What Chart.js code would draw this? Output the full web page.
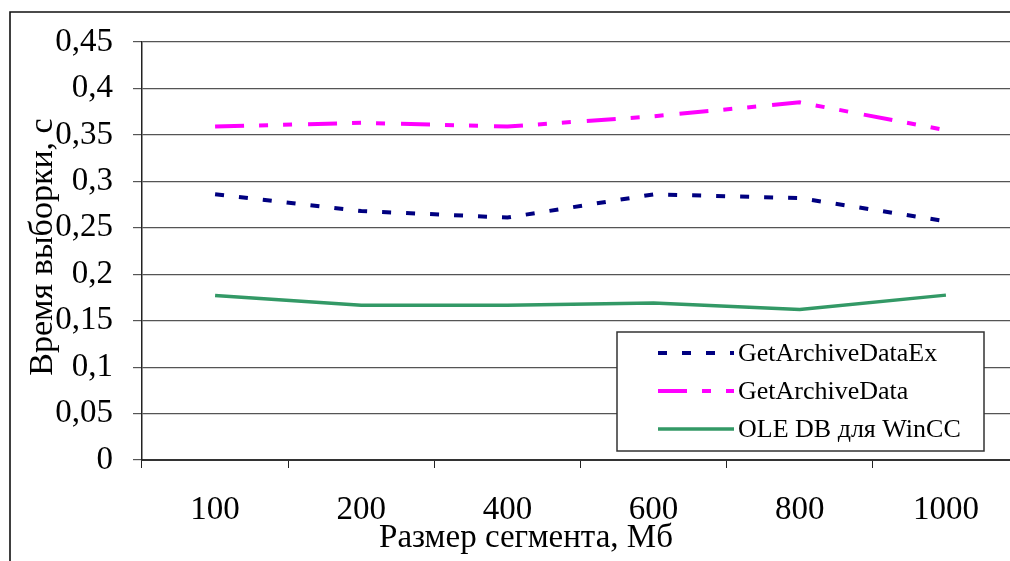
<!DOCTYPE html>
<html>
<head>
<meta charset="utf-8">
<script src="https://cdn.jsdelivr.net/npm/chart.js@4"></script>
<style>
html,body{margin:0;padding:0;background:#fff;overflow:hidden;width:1010px;height:561px;}
canvas{display:block;}
</style>
</head>
<body>
<canvas id="c" width="1030" height="561"></canvas>
<script>
const categories = ['100', '200', '400', '600', '800', '1000'];
const getArchiveDataEx = [0.286, 0.268, 0.261, 0.286, 0.282, 0.257];
const getArchiveData = [0.359, 0.363, 0.359, 0.370, 0.385, 0.355];
const oleDbWinCC = [0.177, 0.1665, 0.1665, 0.169, 0.162, 0.1775];
const seriesNames = ['GetArchiveDataEx', 'GetArchiveData', 'OLE DB для WinCC'];
const yTickLabels = ['0', '0,05', '0,1', '0,15', '0,2', '0,25', '0,3', '0,35', '0,4', '0,45'];
const xTitle = 'Размер сегмента, Мб';
const yTitle = 'Время выборки, с';

const SERIF = '"Liberation Serif", "Times New Roman", serif';

const decorPlugin = {
  id: 'decor',
  beforeDraw(chart) {
    const ctx = chart.ctx;
    ctx.save();
    ctx.fillStyle = '#fff';
    ctx.fillRect(0, 0, chart.width, chart.height);
    ctx.strokeStyle = '#111';
    ctx.lineWidth = 1.6;
    ctx.beginPath();
    ctx.moveTo(10, chart.height + 2);
    ctx.lineTo(10, 12);
    ctx.lineTo(chart.width + 2, 12);
    ctx.stroke();
    ctx.restore();
  },
  afterDraw(chart) {
    const ctx = chart.ctx;
    ctx.save();
    // axis titles
    ctx.fillStyle = '#000';
    ctx.font = '33px ' + SERIF;
    ctx.textAlign = 'center';
    ctx.textBaseline = 'alphabetic';
    ctx.fillText(xTitle, 526, 547);
    ctx.font = '34px ' + SERIF;
    ctx.translate(52, 247);
    ctx.rotate(-Math.PI / 2);
    ctx.fillText(yTitle, 0, 0);
    ctx.restore();

    // legend
    ctx.save();
    const bx = 617, by = 332, bw = 367, bh = 119;
    ctx.fillStyle = '#fff';
    ctx.fillRect(bx, by, bw, bh);
    ctx.strokeStyle = '#333';
    ctx.lineWidth = 1.5;
    ctx.strokeRect(bx, by, bw, bh);
    const rows = [353, 391, 429];
    chart.data.datasets.forEach((ds, i) => {
      const y = rows[i];
      ctx.save();
      ctx.strokeStyle = ds.borderColor;
      ctx.lineWidth = ds.borderWidth;
      ctx.setLineDash(ds.borderDash || []);
      ctx.beginPath();
      ctx.moveTo(658, y);
      ctx.lineTo(734, y);
      ctx.stroke();
      ctx.restore();
      ctx.fillStyle = '#000';
      ctx.font = '26px ' + SERIF;
      ctx.textAlign = 'left';
      ctx.textBaseline = 'middle';
      ctx.fillText(ds.label, 738, y + 1);
    });
    ctx.restore();
  }
};

new Chart(document.getElementById('c'), {
  type: 'line',
  data: {
    labels: categories,
    datasets: [
      {
        label: seriesNames[0],
        data: getArchiveDataEx,
        borderColor: '#000080',
        borderWidth: 4,
        borderDash: [9, 15],
        pointRadius: 0,
        tension: 0,
        fill: false
      },
      {
        label: seriesNames[1],
        data: getArchiveData,
        borderColor: '#FF00FF',
        borderWidth: 4,
        borderDash: [29, 15, 9, 15, 9, 16],
        pointRadius: 0,
        tension: 0,
        fill: false
      },
      {
        label: seriesNames[2],
        data: oleDbWinCC,
        borderColor: '#339966',
        borderWidth: 3.5,
        pointRadius: 0,
        tension: 0,
        fill: false
      }
    ]
  },
  options: {
    responsive: false,
    animation: false,
    devicePixelRatio: 1,
    layout: { padding: { top: 42, right: 11, left: 0, bottom: 0 } },
    plugins: {
      legend: { display: false },
      tooltip: { enabled: false },
      title: { display: false }
    },
    scales: {
      x: {
        type: 'category',
        offset: true,
        afterFit(scale) { scale.height = 101; },
        grid: {
          offset: true,
          drawOnChartArea: false,
          drawTicks: true,
          tickLength: 8,
          color: '#222',
          lineWidth: 1
        },
        border: { display: true, color: '#333', width: 2 },
        ticks: {
          color: '#000',
          font: { family: SERIF, size: 33 },
          padding: 23,
          maxRotation: 0,
          autoSkip: false
        }
      },
      y: {
        min: 0,
        max: 0.45,
        afterFit(scale) { scale.width = 142; },
        grid: {
          color: '#555',
          lineWidth: 1.2,
          drawTicks: true,
          tickLength: 9
        },
        border: { display: true, color: '#222', width: 1.5 },
        ticks: {
          stepSize: 0.05,
          color: '#000',
          font: { family: SERIF, size: 33 },
          padding: 20,
          callback: (v, i) => yTickLabels[i]
        }
      }
    }
  },
  plugins: [decorPlugin]
});
</script>
</body>
</html>
